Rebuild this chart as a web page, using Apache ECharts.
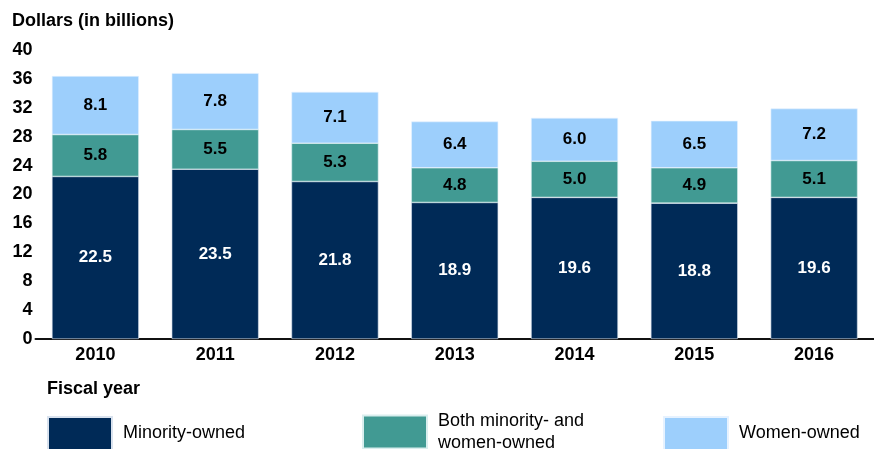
<!DOCTYPE html>
<html>
<head>
<meta charset="utf-8">
<script src="https://cdn.jsdelivr.net/npm/echarts@6/dist/echarts.min.js"></script>
<style>
  html, body { margin: 0; padding: 0; background: #fff; }
  #chart { width: 874px; height: 449px; }
</style>
</head>
<body>
<div id="chart"></div>
<script>
const years = ["2010", "2011", "2012", "2013", "2014", "2015", "2016"];
const minorityOwned = [22.5, 23.5, 21.8, 18.9, 19.6, 18.8, 19.6];
const bothOwned = [5.8, 5.5, 5.3, 4.8, 5.0, 4.9, 5.1];
const womenOwned = [8.1, 7.8, 7.1, 6.4, 6.0, 6.5, 7.2];

const font = "Liberation Sans, Arial, sans-serif";
const navy = "#002a57";
const teal = "#419a93";
const lightBlue = "#9dcffc";

const chart = echarts.init(document.getElementById("chart"));

// one legend per item so each box sits where the original has it
function legendAt(name, left, top) {
  return {
    data: [name],
    left: left,
    top: top,
    padding: 0,
    itemWidth: 64,
    itemHeight: 33,
    itemGap: 11,
    icon: "rect",
    selectedMode: false,
    textStyle: {
      fontFamily: font,
      fontSize: 18,
      color: "#000",
      lineHeight: 22,
      padding: [0, 0, 0, 6],
    },
  };
}

const labelStyle = (color) => ({
  show: true,
  position: "inside",
  fontFamily: font,
  fontSize: 17,
  fontWeight: "bold",
  color: color,
  formatter: (p) => p.value.toFixed(1),
});

const option = {
  animation: false,
  title: {
    text: "Dollars (in billions)",
    left: 12,
    top: 12,
    padding: 0,
    textStyle: { fontFamily: font, fontSize: 18, fontWeight: "bold", color: "#000" },
  },
  graphic: [
    {
      type: "text",
      left: 47,
      top: 380,
      style: { text: "Fiscal year", font: "bold 18px " + font, fill: "#000" },
    },
  ],
  legend: [
    legendAt("Minority-owned", 47, 416),
    legendAt("Both minority- and\nwomen-owned", 362, 410),
    legendAt("Women-owned", 663, 416),
  ],
  grid: { left: 35.5, width: 840, top: 50, bottom: 110 },
  xAxis: {
    type: "category",
    data: years,
    axisTick: { show: false },
    axisLine: { lineStyle: { color: "#111", width: 2 } },
    axisLabel: {
      fontFamily: font,
      fontSize: 18,
      fontWeight: "bold",
      color: "#000",
      margin: 7,
    },
  },
  yAxis: {
    type: "value",
    min: 0,
    max: 40,
    interval: 4,
    splitLine: { show: false },
    axisLine: { show: false },
    axisTick: { show: false },
    axisLabel: {
      fontFamily: font,
      fontSize: 18,
      fontWeight: "bold",
      color: "#000",
      margin: 3,
    },
  },
  series: [
    {
      name: "Minority-owned",
      type: "bar",
      stack: "total",
      barWidth: 87,
      data: minorityOwned,
      itemStyle: { color: navy, borderColor: "#d9e2ee", borderWidth: 0.6 },
      label: labelStyle("#fff"),
    },
    {
      name: "Both minority- and\nwomen-owned",
      type: "bar",
      stack: "total",
      data: bothOwned,
      itemStyle: { color: teal, borderColor: "#d9eeee", borderWidth: 0.6 },
      label: labelStyle("#000"),
    },
    {
      name: "Women-owned",
      type: "bar",
      stack: "total",
      data: womenOwned,
      itemStyle: { color: lightBlue, borderColor: "#e6f2ff", borderWidth: 0.6 },
      label: labelStyle("#000"),
    },
  ],
};

chart.setOption(option);
</script>
</body>
</html>
